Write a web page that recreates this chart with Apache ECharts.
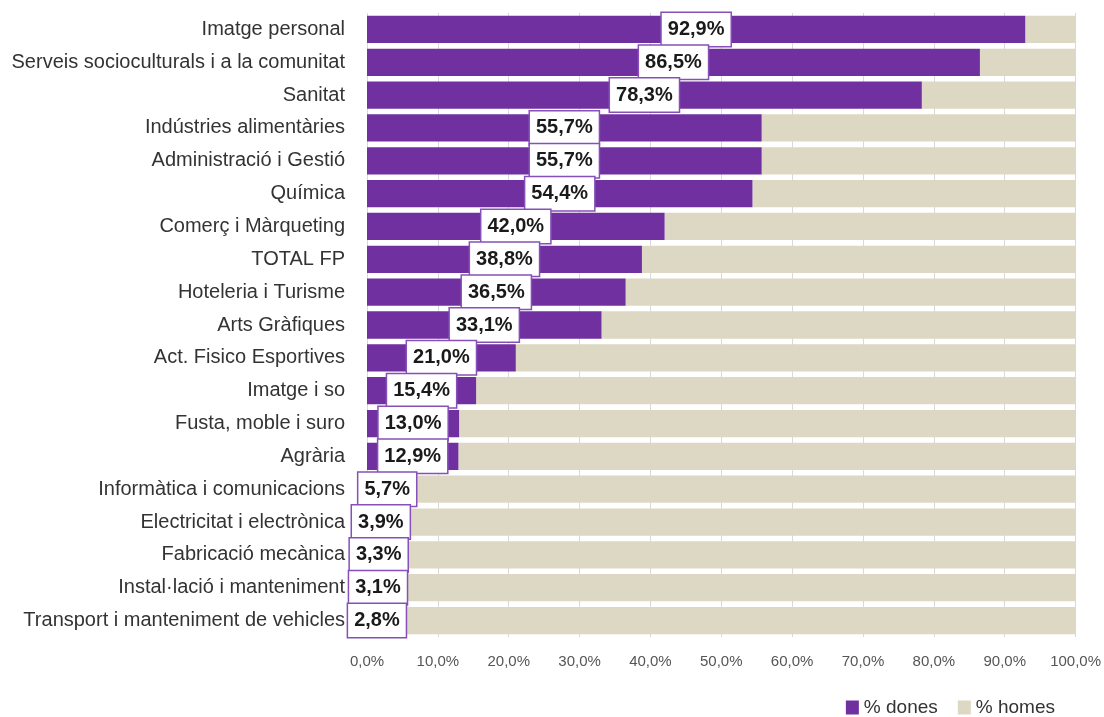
<!DOCTYPE html>
<html><head><meta charset="utf-8">
<script src="https://cdn.jsdelivr.net/npm/echarts@6/dist/echarts.min.js"></script>
<style>html,body{margin:0;padding:0;background:#fff}#c{width:1104px;height:717px}</style>
</head><body><div id="c"></div>
<script>
const categories = ["Imatge personal","Serveis socioculturals i a la comunitat","Sanitat","Indústries alimentàries","Administració i Gestió","Química","Comerç i Màrqueting","TOTAL FP","Hoteleria i Turisme","Arts Gràfiques","Act. Fisico Esportives","Imatge i so","Fusta, moble i suro","Agrària","Informàtica i comunicacions","Electricitat i electrònica","Fabricació mecànica","Instal·lació i manteniment","Transport i manteniment de vehicles"];
const dones = [92.9,86.5,78.3,55.7,55.7,54.4,42.0,38.8,36.5,33.1,21.0,15.4,13.0,12.9,5.7,3.9,3.3,3.1,2.8];
const homes = [7.1,13.5,21.7,44.3,44.3,45.6,58.0,61.2,63.5,66.9,79.0,84.6,87.0,87.1,94.3,96.1,96.7,96.9,97.2];
const xTicks = [0,10,20,30,40,50,60,70,80,90,100];
const fmt = v => v.toFixed(1).replace('.', ',') + '%';
const chart = echarts.init(document.getElementById('c'));
chart.setOption({
  animation:false,
  grid:{left:367,right:26,top:13,height:624,containLabel:false},
  legend:{data:['% dones','% homes'],right:44,top:693,itemWidth:13,itemHeight:14,itemGap:20,
    icon:'rect',textStyle:{fontFamily:'Liberation Sans',fontSize:19,color:'#333'}},
  xAxis:{type:'value',min:0,max:100,interval:10,
    axisLabel:{formatter:v=>fmt(v),fontFamily:'Liberation Sans',fontSize:15,color:'#555',margin:17},
    axisLine:{show:false},axisTick:{show:false},
    splitLine:{show:true,lineStyle:{color:'#d9d9d9',width:1}}},
  yAxis:{type:'category',data:categories,inverse:true,
    axisLine:{show:false},axisTick:{show:false},
    axisLabel:{fontFamily:'Liberation Sans',fontSize:20,color:'#333',margin:22}},
  series:[
    {name:'% dones',type:'bar',stack:'t',data:dones,barCategoryGap:'17%',
     itemStyle:{color:'#7030A0'},
     label:{show:true,position:'inside',formatter:p=>fmt(p.value),
       fontFamily:'Liberation Sans',fontWeight:'bold',fontSize:20,color:'#1a1a1a',lineHeight:20,
       backgroundColor:'#fff',borderColor:'#8650b8',borderWidth:1.5,padding:[7,6,6,6]},
     z:3},
    {name:'% homes',type:'bar',stack:'t',data:homes,itemStyle:{color:'#DDD8C3'},z:2}
  ]
});
</script></body></html>
